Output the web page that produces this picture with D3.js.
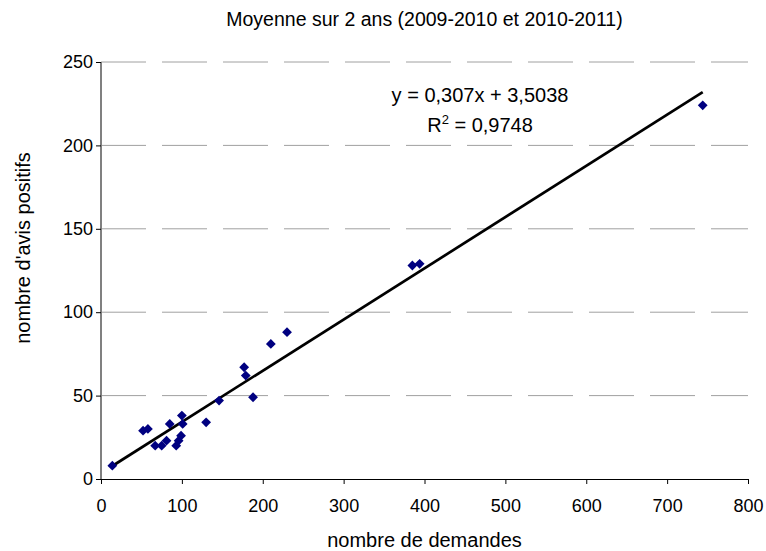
<!DOCTYPE html>
<html>
<head>
<meta charset="utf-8">
<script src="https://cdn.jsdelivr.net/npm/d3@7"></script>
<style>
  body { margin: 0; background: #fff; }
  svg text { font-family: "Liberation Sans", Arial, sans-serif; fill: #000; }
</style>
</head>
<body>
<svg id="chart" width="766" height="551"></svg>
<script>
// nombre de demandes / nombre d'avis positifs (moyenne 2009-2010 et 2010-2011)
const demandes = [14, 52, 58, 67, 75, 81, 85, 93, 96, 99, 100, 101, 130, 146, 177, 179, 188, 210, 230, 385, 394, 744];
const avisPositifs = [8, 29, 30, 20, 20, 23, 33, 20, 23, 26, 38, 33, 34, 47, 67, 62, 49, 81, 88, 128, 129, 224];

const xTicks = [0, 100, 200, 300, 400, 500, 600, 700, 800];
const yTicks = [0, 50, 100, 150, 200, 250];

// courbe de tendance affichée
const pente = 0.307;
const ordonnee = 3.5038;
const r2Label = "0,9748";

const titre = "Moyenne sur 2 ans (2009-2010 et 2010-2011)";
const xTitre = "nombre de demandes";
const yTitre = "nombre d'avis positifs";

function draw_chart() {
    const svg = d3.select("#chart");
    const left = 101, right = 748, top = 62, bottom = 479;

    const x = d3.scaleLinear().domain([0, 800]).range([left, right]);
    const y = d3.scaleLinear().domain([0, 250]).range([bottom, top]);

    // quadrillage horizontal en tirets
    svg.append("g")
        .selectAll("line")
        .data(yTicks.filter(d => d > 0))
        .enter().append("line")
        .attr("x1", left)
        .attr("x2", right)
        .attr("y1", d => y(d))
        .attr("y2", d => y(d))
        .attr("stroke", "#a0a0a0")
        .attr("stroke-width", 1)
        .attr("stroke-dasharray", "45,16");

    // axe des x
    const xAxis = svg.append("g")
        .attr("transform", `translate(0,${bottom})`)
        .call(d3.axisBottom(x).tickValues(xTicks).tickSize(5).tickPadding(15)
            .tickFormat(d3.format("d")));
    xAxis.select(".domain").attr("stroke", "#000").attr("d", `M${left},0.5H${right}`);
    xAxis.selectAll(".tick line").attr("stroke", "#000");
    xAxis.selectAll("text").attr("font-size", 18);

    // axe des y
    const yAxis = svg.append("g")
        .attr("transform", `translate(${left},0)`)
        .call(d3.axisLeft(y).tickValues(yTicks).tickSize(5).tickPadding(3)
            .tickFormat(d3.format("d")));
    yAxis.select(".domain").attr("stroke", "#808080").attr("stroke-width", 2)
        .attr("d", `M0,${top}V${bottom}`);
    yAxis.selectAll(".tick line").attr("stroke", "#000");
    yAxis.selectAll("text").attr("font-size", 18);

    // droite de régression
    const xMin = d3.min(demandes), xMax = d3.max(demandes);
    svg.append("line")
        .attr("x1", x(xMin))
        .attr("y1", y(pente * xMin + ordonnee))
        .attr("x2", x(xMax))
        .attr("y2", y(pente * xMax + ordonnee))
        .attr("stroke", "#000")
        .attr("stroke-width", 2.7);

    // points (losanges)
    const r = 4.9;
    svg.append("g")
        .selectAll("path")
        .data(demandes.map((d, i) => [d, avisPositifs[i]]))
        .enter().append("path")
        .attr("d", `M0,${-r}L${r},0L0,${r}L${-r},0Z`)
        .attr("transform", d => `translate(${x(d[0])},${y(d[1])})`)
        .attr("fill", "#000080");

    // équation
    const eqX = 480;
    svg.append("text")
        .attr("x", eqX).attr("y", 102)
        .attr("text-anchor", "middle")
        .attr("font-size", 20)
        .text(`y = ${String(pente).replace(".", ",")}x + ${String(ordonnee).replace(".", ",")}`);
    const r2 = svg.append("text")
        .attr("x", eqX).attr("y", 132)
        .attr("text-anchor", "middle")
        .attr("font-size", 20);
    r2.append("tspan").text("R");
    r2.append("tspan").attr("font-size", 13).attr("dy", -8).text("2");
    r2.append("tspan").attr("dy", 8).text(` = ${r2Label}`);

    // titres
    svg.append("text")
        .attr("x", (left + right) / 2).attr("y", 26)
        .attr("text-anchor", "middle")
        .attr("font-size", 19.5)
        .text(titre);

    svg.append("text")
        .attr("x", (left + right) / 2).attr("y", 547)
        .attr("text-anchor", "middle")
        .attr("font-size", 20)
        .text(xTitre);

    svg.append("text")
        .attr("transform", `translate(30,248) rotate(-90)`)
        .attr("text-anchor", "middle")
        .attr("font-size", 20)
        .text(yTitre);
}

draw_chart();
</script>
</body>
</html>
